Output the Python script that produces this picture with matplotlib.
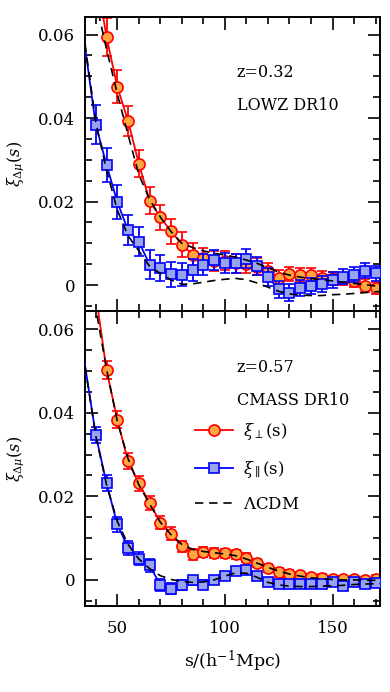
import numpy as np
import matplotlib
matplotlib.use("Agg")
import matplotlib.pyplot as plt
from matplotlib.ticker import MultipleLocator, FuncFormatter
from matplotlib.lines import Line2D

plt.rcParams['font.family'] = 'DejaVu Serif'
plt.rcParams['mathtext.fontset'] = 'dejavuserif'

# ---- LOWZ DR10 (z=0.32) ----
s_perp_lowz = [40, 45, 50, 55, 60, 65, 70, 75, 80, 85, 90, 95, 100, 105, 110, 115, 120,
               125, 130, 135, 140, 145, 150, 155, 160, 165, 170]
xi_perp_lowz = [0.075, 0.0594, 0.0475, 0.0393, 0.0291, 0.0202, 0.0162, 0.0129, 0.0097, 0.0073,
                0.0064, 0.0058, 0.0058, 0.0052, 0.0050, 0.0044, 0.0033, 0.0018, 0.0027, 0.0024,
                0.0024, 0.0018, 0.0016, 0.0015, 0.0010, -0.0001, -0.0007]
err_perp_lowz = [0.005, 0.0046, 0.0040, 0.0037, 0.0033, 0.0032, 0.0031, 0.0030, 0.0030, 0.0028,
                 0.0025, 0.0024, 0.0023, 0.0022, 0.0022, 0.0020, 0.0020, 0.0018, 0.0017, 0.0017,
                 0.0016, 0.0016, 0.0016, 0.0015, 0.0015, 0.0015, 0.0015]

s_par_lowz = [30, 40, 45, 50, 55, 60, 65, 70, 75, 80, 85, 90, 95, 100, 105, 110, 115, 120,
              125, 130, 135, 140, 145, 150, 155, 160, 165, 170]
xi_par_lowz = [0.0756, 0.0384, 0.0288, 0.0199, 0.0131, 0.0104, 0.0049, 0.0040, 0.0026, 0.0025,
               0.0036, 0.0049, 0.0061, 0.0052, 0.0052, 0.0063, 0.0045, 0.0019, -0.0010, -0.0018,
               -0.0006, -0.0002, 0.0002, 0.0012, 0.0020, 0.0025, 0.0034, 0.0028]
err_par_lowz = [0.005, 0.0047, 0.0041, 0.0040, 0.0036, 0.0034, 0.0034, 0.0031, 0.0030, 0.0028,
                0.0027, 0.0025, 0.0024, 0.0024, 0.0023, 0.0023, 0.0022, 0.0021, 0.0020, 0.0020,
                0.0019, 0.0019, 0.0019, 0.0019, 0.0018, 0.0018, 0.0018, 0.0018]

s_model = [35, 40, 45, 50, 55, 60, 65, 70, 75, 80, 85, 90, 95, 100, 105, 110, 115, 120,
           125, 130, 135, 140, 145, 150, 155, 160, 165, 170, 175]
model_perp_lowz = [0.080, 0.068, 0.0565, 0.0458, 0.0360, 0.0265, 0.0205, 0.0163, 0.0128, 0.0100,
                   0.0090, 0.0082, 0.0076, 0.0072, 0.0067, 0.0060, 0.0052, 0.0042, 0.0031, 0.0024,
                   0.0019, 0.0016, 0.0013, 0.0010, 0.0007, 0.0004, 0.0001, -0.0002, -0.0004]
model_par_lowz = [0.0578, 0.0390, 0.0275, 0.0180, 0.0118, 0.0082, 0.0045, 0.0028, 0.0012, 0.0002,
                  0.0003, 0.0007, 0.0011, 0.0014, 0.0016, 0.0013, 0.0005, -0.0005, -0.0015, -0.0021,
                  -0.0024, -0.0025, -0.0025, -0.0023, -0.0022, -0.0020, -0.0018, -0.0016, -0.0015]

# ---- CMASS DR10 (z=0.57) ----
s_perp_cmass = s_perp_lowz
xi_perp_cmass = [0.0685, 0.0502, 0.0384, 0.0284, 0.0231, 0.0185, 0.0137, 0.0111, 0.0080, 0.0061,
                 0.0067, 0.0065, 0.0064, 0.0061, 0.0053, 0.0041, 0.0029, 0.0018, 0.0015, 0.0011,
                 0.0006, 0.0004, 0.0002, 0.0002, 0.0002, -0.0001, 0.0003]
err_perp_cmass = [0.0024, 0.0022, 0.0020, 0.0019, 0.0018, 0.0017, 0.0016, 0.0015, 0.0014, 0.0013,
                  0.0012, 0.0012, 0.0011, 0.0011, 0.0011, 0.0010, 0.0010, 0.0010, 0.0009, 0.0009,
                  0.0009, 0.0009, 0.0008, 0.0008, 0.0008, 0.0008, 0.0008]

s_par_cmass = s_par_lowz
xi_par_cmass = [0.068, 0.0347, 0.0231, 0.0133, 0.0077, 0.0051, 0.0035, -0.0012, -0.0021, -0.0013,
                -0.0001, -0.0012, -0.0001, 0.0010, 0.0022, 0.0023, 0.0010, -0.0004, -0.0010, -0.0010,
                -0.0009, -0.0009, -0.0009, -0.0005, -0.0014, -0.0006, -0.0009, -0.0008]
err_par_cmass = [0.0022, 0.0020, 0.0019, 0.0018, 0.0017, 0.0016, 0.0015, 0.0014, 0.0013, 0.0012,
                 0.0011, 0.0011, 0.0010, 0.0010, 0.0010, 0.0010, 0.0009, 0.0009, 0.0009, 0.0009,
                 0.0009, 0.0009, 0.0008, 0.0008, 0.0008, 0.0008, 0.0008, 0.0008]

model_perp_cmass = [0.080, 0.065, 0.0505, 0.0380, 0.0290, 0.0228, 0.0182, 0.0138, 0.0108, 0.0085,
                    0.0073, 0.0068, 0.0065, 0.0062, 0.0058, 0.0050, 0.0040, 0.0030, 0.0021, 0.0014,
                    0.0009, 0.0005, 0.0003, 0.0001, 0.0000, 0.0000, -0.0001, -0.0001, -0.0001]
model_par_cmass = [0.0512, 0.0345, 0.0228, 0.0140, 0.0085, 0.0050, 0.0027, 0.0010, 0.0001, -0.0004,
                   -0.0006, -0.0005, 0.0000, 0.0009, 0.0017, 0.0016, 0.0006, -0.0006, -0.0012, -0.0015,
                   -0.0016, -0.0016, -0.0015, -0.0014, -0.0013, -0.0011, -0.0010, -0.0009, -0.0009]

panels = [
    ("z=0.32", "LOWZ DR10", s_perp_lowz, xi_perp_lowz, err_perp_lowz,
     s_par_lowz, xi_par_lowz, err_par_lowz, model_perp_lowz, model_par_lowz),
    ("z=0.57", "CMASS DR10", s_perp_cmass, xi_perp_cmass, err_perp_cmass,
     s_par_cmass, xi_par_cmass, err_par_cmass, model_perp_cmass, model_par_cmass),
]

RED = "#ff0000"
ORANGE = "#ffa640"
BLUE = "#0000ff"
LBLUE = "#98a4ee"

fig = plt.figure(figsize=(3.9, 6.92), dpi=100)
ax_top = fig.add_axes([0.218, 0.550, 0.756, 0.426])
ax_bot = fig.add_axes([0.218, 0.124, 0.756, 0.426], sharex=ax_top)

for ax, p in zip([ax_top, ax_bot], panels):
    ztxt, name, sp, xp, ep, sq, xq, eq, mp, mq = p
    ax.errorbar(sp, xp, yerr=ep, color=RED, lw=1.3, elinewidth=1.3, capsize=3.6, capthick=1.3,
                marker="o", ms=8, mfc=ORANGE, mec=RED, mew=1.2, zorder=2)
    ax.errorbar(sq, xq, yerr=eq, color=BLUE, lw=1.3, elinewidth=1.3, capsize=3.6, capthick=1.3,
                marker="s", ms=7, mfc=LBLUE, mec=BLUE, mew=1.2, zorder=3)
    ax.plot(s_model, mp, color="black", ls=(0, (5, 3.5)), lw=1.2, zorder=4)
    ax.plot(s_model, mq, color="black", ls=(0, (5, 3.5)), lw=1.2, zorder=4)

    ax.set_xlim(35, 172)
    ax.set_ylim(-0.0063, 0.0643)
    ax.xaxis.set_major_locator(MultipleLocator(50))
    ax.xaxis.set_minor_locator(MultipleLocator(10))
    ax.yaxis.set_major_locator(MultipleLocator(0.02))
    ax.yaxis.set_minor_locator(MultipleLocator(0.005))
    ax.yaxis.set_major_formatter(FuncFormatter(lambda v, pos: "%g" % round(v, 4)))
    ax.tick_params(which="both", direction="in", top=True, right=True, width=1.2)
    ax.tick_params(which="major", length=9, labelsize=12)
    ax.tick_params(which="minor", length=5)
    ax.tick_params(axis="x", pad=10)
    ax.tick_params(axis="y", pad=7)
    for sp_ in ax.spines.values():
        sp_.set_linewidth(1.4)

    ax.set_ylabel(r"$\xi_{\Delta\mu}(s)$", fontsize=11.5, family="DejaVu Sans")
    ax.yaxis.set_label_coords(-0.2, 0.5)
    ax.text(0.515, 0.796, ztxt, transform=ax.transAxes, fontsize=11.5)
    ax.text(0.515, 0.684, name, transform=ax.transAxes, fontsize=11.5)

ax_top.tick_params(axis="x", labelbottom=False)
ax_bot.set_xlabel(r"s/(h$^{-1}$Mpc)", fontsize=12.5)
ax_bot.xaxis.set_label_coords(0.5, -0.145)

handles = [
    Line2D([], [], color=RED, lw=1.3, marker="o", ms=8, mfc=ORANGE, mec=RED, mew=1.2),
    Line2D([], [], color=BLUE, lw=1.3, marker="s", ms=7, mfc=LBLUE, mec=BLUE, mew=1.2),
    Line2D([], [], color="black", lw=1.2, ls=(0, (5, 3.5))),
]
labels = [r"$\xi_{\perp}(\mathrm{s})$", r"$\xi_{\parallel}(\mathrm{s})$", r"$\Lambda$CDM"]
ax_bot.legend(handles, labels, loc="center left", bbox_to_anchor=(0.373, 0.472),
              frameon=False, fontsize=12, handlelength=2.3, handletextpad=0.6,
              labelspacing=1.0, borderpad=0, borderaxespad=0)

fig.savefig("out.png", dpi=100)
